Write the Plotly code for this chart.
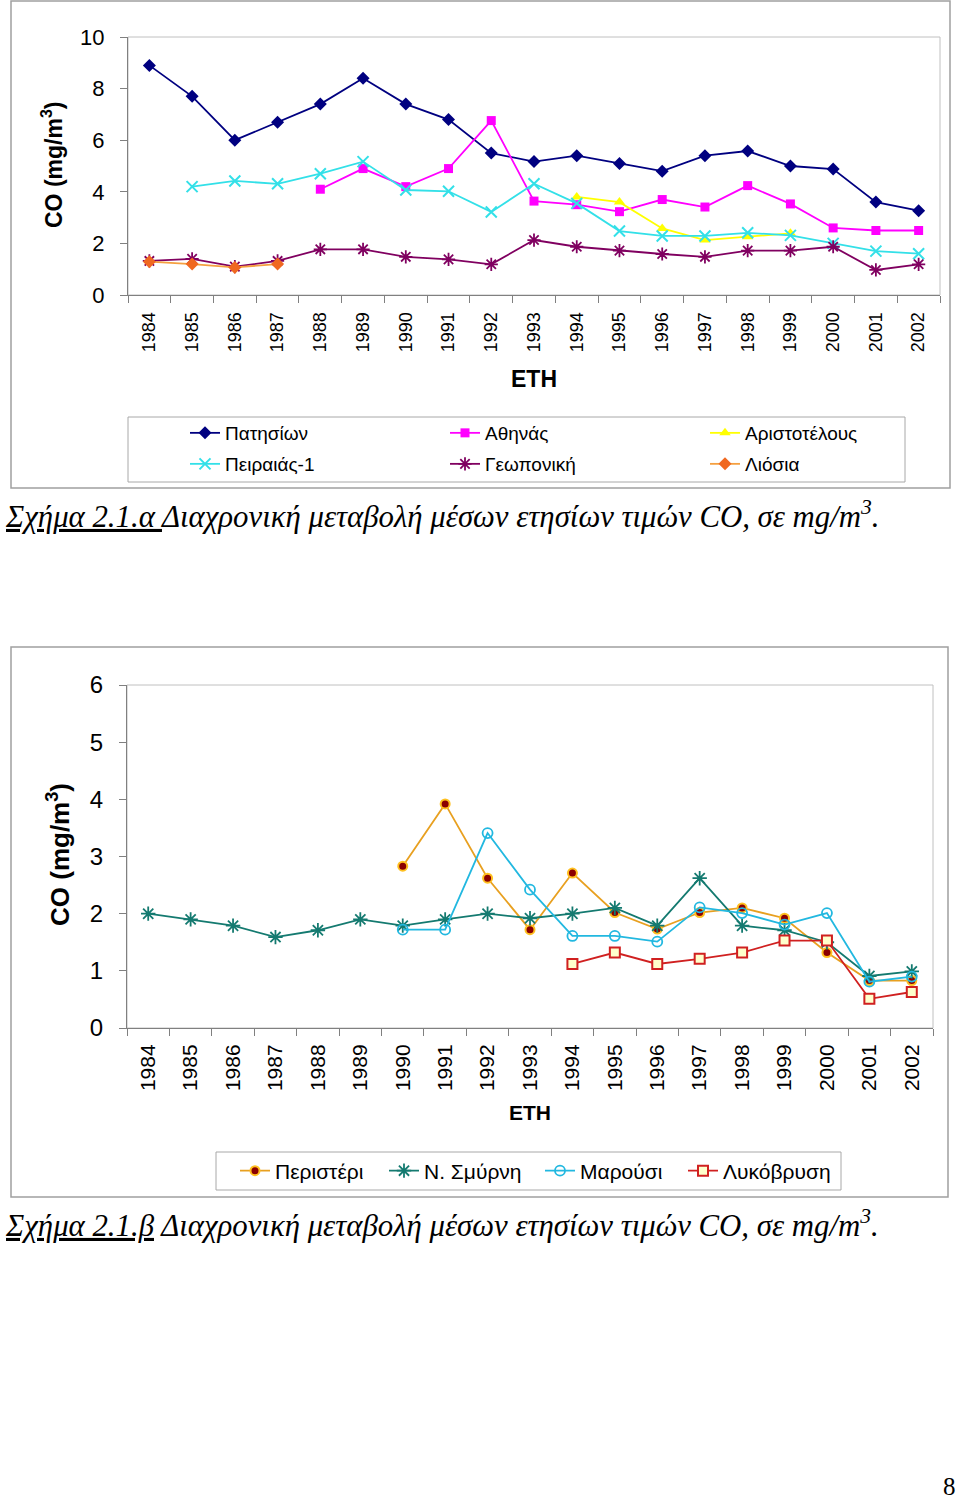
import plotly.graph_objects as go

W, H = 960, 1499

years = ["1984", "1985", "1986", "1987", "1988", "1989", "1990", "1991", "1992", "1993",
         "1994", "1995", "1996", "1997", "1998", "1999", "2000", "2001", "2002"]

# ---- Chart 2.1.a ----
patision = [8.9, 7.7, 6.0, 6.7, 7.4, 8.4, 7.4, 6.8, 5.5, 5.17, 5.4, 5.1, 4.8, 5.4, 5.58, 5.0, 4.88, 3.6, 3.27]
athinas = [None, None, None, None, 4.1, 4.9, 4.2, 4.9, 6.76, 3.64, 3.5, 3.23, 3.7, 3.41, 4.24, 3.53, 2.6, 2.5, 2.5]
aristotelous = [None, None, None, None, None, None, None, None, None, None, 3.8, 3.6, 2.58, 2.13, 2.26, 2.39, None, None, None]
peiraias = [None, 4.2, 4.42, 4.31, 4.7, 5.17, 4.07, 4.02, 3.22, 4.31, 3.55, 2.48, 2.29, 2.29, 2.41, 2.31, 2.0, 1.7, 1.6]
geoponiki = [1.32, 1.4, 1.1, 1.32, 1.77, 1.77, 1.48, 1.38, 1.19, 2.13, 1.87, 1.72, 1.59, 1.48, 1.72, 1.72, 1.87, 0.97, 1.19]
liosia = [1.29, 1.2, 1.07, 1.2, None, None, None, None, None, None, None, None, None, None, None, None, None, None, None]

# ---- Chart 2.1.b ----
peristeri = [None, None, None, None, None, None, 2.83, 3.92, 2.62, 1.72, 2.71, 2.02, 1.73, 2.02, 2.1, 1.92, 1.32, 0.83, 0.83]
nsmyrni = [2.0, 1.9, 1.79, 1.59, 1.71, 1.9, 1.79, 1.9, 2.0, 1.92, 2.0, 2.1, 1.79, 2.62, 1.79, 1.71, 1.5, 0.91, 0.99]
marousi = [None, None, None, None, None, None, 1.72, 1.72, 3.41, 2.42, 1.61, 1.61, 1.51, 2.11, 2.01, 1.81, 2.01, 0.81, 0.9]
lykovrysi = [None, None, None, None, None, None, None, None, None, None, 1.12, 1.32, 1.12, 1.21, 1.32, 1.53, 1.53, 0.51, 0.63]

top_names = ["Πατησίων", "Αθηνάς", "Αριστοτέλους", "Πειραιάς-1", "Γεωπονική", "Λιόσια"]
bot_names = ["Περιστέρι", "Ν. Σμύρνη", "Μαρούσι", "Λυκόβρυση"]

FONT = "Liberation Sans, Arial, sans-serif"
SERIF = "Liberation Serif, Times New Roman, serif"


def px(x):
    return x / W


def py(y):
    return 1 - y / H


fig = go.Figure()

# top chart traces (first three in legend row 1, last three in legend row 2)
top_specs = [
    (patision, "#000080", dict(symbol="diamond", size=10, color="#000080"), "legend"),
    (athinas, "#FF00FF", dict(symbol="square", size=9, color="#FF00FF"), "legend"),
    (aristotelous, "#FFFF00", dict(symbol="triangle-up", size=10, color="#FFFF00"), "legend"),
    (peiraias, "#33E0E8", dict(symbol="x-thin-open", size=11, color="#33E0E8", line=dict(color="#33E0E8", width=2)), "legend3"),
    (geoponiki, "#800060", dict(symbol="asterisk-open", size=11, color="#800060", line=dict(color="#800060", width=1.8)), "legend3"),
    (liosia, "#F5A040", dict(symbol="diamond", size=10, color="#F06820"), "legend3"),
]
for name, (vals, lc, mk, lg) in zip(top_names, top_specs):
    fig.add_trace(go.Scatter(
        x=years, y=vals, name=name, mode="lines+markers",
        line=dict(color=lc, width=1.8), marker=mk,
        xaxis="x", yaxis="y", legend=lg, connectgaps=False,
    ))

bot_specs = [
    (peristeri, "#E8A020", dict(symbol="circle", size=9, color="#8B0000", line=dict(color="#FFC020", width=2)), 104),
    (nsmyrni, "#147A70", dict(symbol="asterisk-open", size=12, color="#147A70", line=dict(color="#147A70", width=1.8)), 111),
    (marousi, "#22B8E0", dict(symbol="circle-open", size=10, color="#22B8E0", line=dict(color="#22B8E0", width=1.8)), 98),
    (lykovrysi, "#D02020", dict(symbol="square", size=10, color="#FFFFCC", line=dict(color="#D02020", width=2)), None),
]
for name, (vals, lc, mk, lw) in zip(bot_names, bot_specs):
    kw = {}
    if lw is not None:
        kw["legendwidth"] = lw
    fig.add_trace(go.Scatter(
        x=years, y=vals, name=name, mode="lines+markers",
        line=dict(color=lc, width=1.8), marker=mk,
        xaxis="x2", yaxis="y2", legend="legend2", connectgaps=False, **kw,
    ))

# plot area geometry (pixels)
T_L, T_R, T_T, T_B = 128, 940, 37, 295
B_L, B_R, B_T, B_B = 127, 933, 685, 1028

common_x = dict(
    type="category", tickangle=-90, ticks="outside", tickson="boundaries", ticklen=7,
    tickcolor="#808080", showline=True, linecolor="#808080", linewidth=1,
    showgrid=False, zeroline=False, fixedrange=True, automargin=False,
    range=[-0.5, len(years) - 0.5],
)
common_y = dict(
    ticks="outside", ticklen=7, tickcolor="#808080", showline=True, linecolor="#808080",
    linewidth=1, showgrid=False, zeroline=False, fixedrange=True, automargin=False,
    ticklabelstandoff=11,
)

legend_common = dict(xanchor="left", yanchor="middle", orientation="h",
                     borderwidth=0, bgcolor="rgba(0,0,0,0)")

fig.update_layout(
    width=W, height=H, margin=dict(l=0, r=0, t=0, b=0, autoexpand=False),
    paper_bgcolor="white", plot_bgcolor="white",
    font=dict(family=FONT, color="black"),
    showlegend=True,
    xaxis=dict(domain=[px(T_L), px(T_R)], anchor="y", tickfont=dict(size=18, family=FONT),
               ticklabelstandoff=9, **common_x),
    yaxis=dict(domain=[py(T_B), py(T_T)], anchor="x", range=[0, 10], tickvals=[0, 2, 4, 6, 8, 10],
               tickfont=dict(size=22, family=FONT), **common_y),
    xaxis2=dict(domain=[px(B_L), px(B_R)], anchor="y2", tickfont=dict(size=21, family=FONT),
                ticklabelstandoff=7, **common_x),
    yaxis2=dict(domain=[py(B_B), py(B_T)], anchor="x2", range=[0, 6], tickvals=[0, 1, 2, 3, 4, 5, 6],
                tickfont=dict(size=24, family=FONT), **common_y),
    legend=dict(x=px(185), y=py(433), entrywidth=215, entrywidthmode="pixels",
                font=dict(size=19, family=FONT), **legend_common),
    legend3=dict(x=px(185), y=py(464), entrywidth=215, entrywidthmode="pixels",
                 font=dict(size=19, family=FONT), **legend_common),
    legend2=dict(x=px(235), y=py(1171), entrywidthmode="pixels",
                 font=dict(size=21, family=FONT), **legend_common),
)

shapes = []
# outer frames
shapes.append(dict(type="rect", xref="paper", yref="paper", x0=px(11), x1=px(950), y0=py(488), y1=py(1),
                   line=dict(color="#A0A0A0", width=1.5), layer="below"))
shapes.append(dict(type="rect", xref="paper", yref="paper", x0=px(11), x1=px(948), y0=py(1197), y1=py(647),
                   line=dict(color="#A0A0A0", width=1.5), layer="below"))
# legend boxes
shapes.append(dict(type="rect", xref="paper", yref="paper", x0=px(128), x1=px(905), y0=py(482), y1=py(417),
                   line=dict(color="#A8A8A8", width=1), layer="below"))
shapes.append(dict(type="rect", xref="paper", yref="paper", x0=px(216), x1=px(841), y0=py(1190), y1=py(1152),
                   line=dict(color="#A8A8A8", width=1), layer="below"))
# plot area borders
for xa, ya in (("x", "y"), ("x2", "y2")):
    shapes.append(dict(type="rect", xref=f"{xa} domain", yref=f"{ya} domain", x0=0, x1=1, y0=0, y1=1,
                       line=dict(color="#C0C0C0", width=1), layer="below"))
fig.update_layout(shapes=shapes)

annotations = [
    dict(text="<b>CO (mg/m<sup>3</sup>)</b>", x=px(52), y=py(165), textangle=-90, font=dict(size=23, family=FONT)),
    dict(text="<b>ETH</b>", x=px(534), y=py(379), font=dict(size=23, family=FONT)),
    dict(text="<b>CO (mg/m<sup>3</sup>)</b>", x=px(58), y=py(855), textangle=-90, font=dict(size=26, family=FONT)),
    dict(text="<b>ETH</b>", x=px(530), y=py(1112), font=dict(size=21, family=FONT)),
]
for a in annotations:
    a.update(xref="paper", yref="paper", showarrow=False, xanchor="center", yanchor="middle")

caption_a = "<i><u>Σχήμα 2.1.α </u>Διαχρονική μεταβολή μέσων ετησίων τιμών CO, σε mg/m<sup>3</sup>.</i>"
caption_b = "<i><u>Σχήμα 2.1.β</u> Διαχρονική μεταβολή μέσων ετησίων τιμών CO, σε mg/m<sup>3</sup>.</i>"
annotations += [
    dict(text=caption_a, x=px(3), y=py(514), xref="paper", yref="paper", showarrow=False,
         xanchor="left", yanchor="middle", font=dict(size=30.8, family=SERIF)),
    dict(text=caption_b, x=px(3), y=py(1223), xref="paper", yref="paper", showarrow=False,
         xanchor="left", yanchor="middle", font=dict(size=30.8, family=SERIF)),
    dict(text="8", x=px(949), y=py(1486), xref="paper", yref="paper", showarrow=False,
         xanchor="center", yanchor="middle", borderpad=0, font=dict(size=25, family=SERIF)),
]
fig.update_layout(annotations=annotations)

fig.write_html("out.html")
